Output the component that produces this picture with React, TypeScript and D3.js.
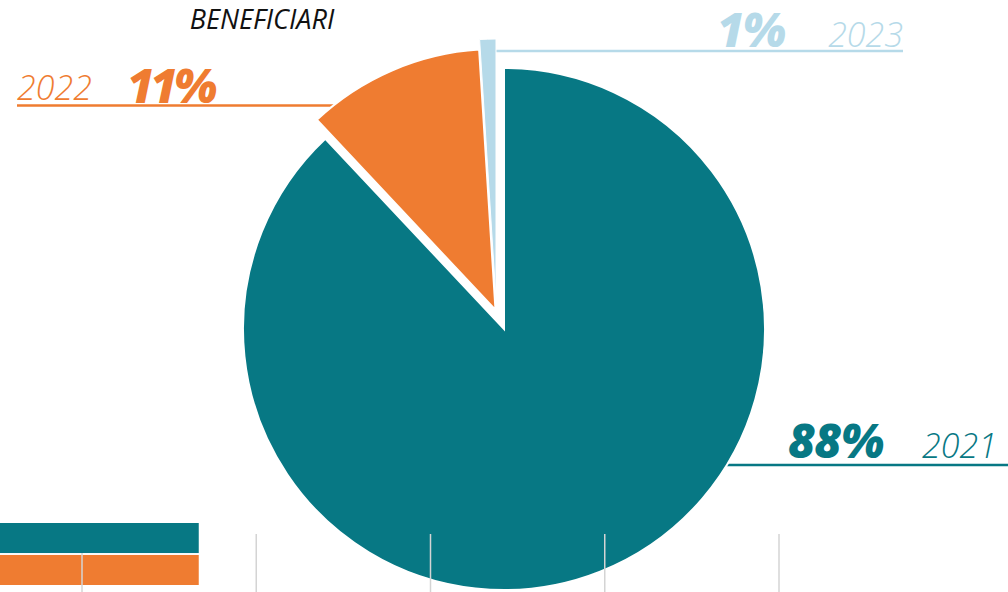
import { useRef, useEffect } from 'react';
import * as d3 from 'd3';

const years = ['2021', '2022', '2023'];
const shares = [88, 11, 1];
const colors = ['#077884', '#EF7C31', '#B6DAE9'];
// how far each slice is pulled out of the pie [dx, dy]
const explode = [[0, 0], [-8.5, -19], [-8, -29]];

const barNames = ['a', 'b'];
const barValues = [1.67, 1.67];
const barColors = ['#077884', '#EF7C31'];
const gridTicks = [1, 2, 3, 4, 5];

const App = () => {
  const svgRef = useRef<SVGSVGElement | null>(null);

  useEffect(() => {
    if (!svgRef.current) return;
    const svg = d3.select(svgRef.current);
    svg.selectAll('*').remove();

    const W = 1008;
    const H = 592;
    const cx = 504;
    const cy = 329;
    const r = 261;
    const font = '"Open Sans", sans-serif';

    svg.attr('width', W).attr('height', H);

    // leader lines (drawn under the pie)
    const leaders = [
      { x1: 720, x2: 1008, y: 465, c: colors[0] },
      { x1: 17, x2: 360, y: 105.5, c: colors[1] },
      { x1: 488, x2: 903, y: 51, c: colors[2] },
    ];
    svg.selectAll('.leader')
      .data(leaders)
      .enter()
      .append('line')
      .attr('x1', d => d.x1)
      .attr('x2', d => d.x2)
      .attr('y1', d => d.y)
      .attr('y2', d => d.y)
      .attr('stroke', d => d.c)
      .attr('stroke-width', 2.5);

    const pie = d3.pie<number>().sort(null).value(d => d);
    const arcs = pie(shares);
    const arc = d3.arc<d3.PieArcDatum<number>>().innerRadius(0).outerRadius(r);

    const g = svg.append('g').attr('transform', `translate(${cx},${cy})`);
    g.selectAll('path')
      .data(arcs)
      .enter()
      .append('path')
      .attr('d', arc)
      .attr('fill', (d, i) => colors[i])
      .attr('stroke', '#fff')
      .attr('stroke-width', (d, i) => (i === 2 ? 1 : 2))
      .attr('transform', (d, i) => `translate(${explode[i][0]},${explode[i][1]})`);

    // cropped bar chart at the bottom
    const x = d3.scaleLinear().domain([0, 5]).range([-92.25, 779]);
    const y = d3.scaleBand().domain(barNames).range([523, 585]).paddingInner(0.06);

    svg.append('rect')
      .attr('x', x(0))
      .attr('y', y(barNames[1]) as number)
      .attr('width', x(barValues[1]) - x(0))
      .attr('height', y.bandwidth())
      .attr('fill', barColors[1]);

    svg.selectAll('.grid')
      .data(gridTicks)
      .enter()
      .append('line')
      .attr('x1', d => x(d))
      .attr('x2', d => x(d))
      .attr('y1', 534)
      .attr('y2', H)
      .attr('stroke', '#d4d4d4')
      .attr('stroke-width', 1.5);

    svg.append('rect')
      .attr('x', x(0))
      .attr('y', y(barNames[0]) as number)
      .attr('width', x(barValues[0]) - x(0))
      .attr('height', y.bandwidth())
      .attr('fill', barColors[0]);

    // title
    svg.append('text')
      .attr('x', 262)
      .attr('y', 29)
      .attr('text-anchor', 'middle')
      .attr('font-family', font)
      .attr('font-style', 'italic')
      .attr('font-size', 27)
      .attr('fill', '#111')
      .text('BENEFICIARI');

    const labels = [
      { pct: `${shares[0]}%`, year: years[0], px: 788, pa: 'start', yx: 922, ya: 'start', by: 458, ls: -1 },
      { pct: `${shares[1]}%`, year: years[1], px: 127, pa: 'start', yx: 17, ya: 'start', by: 100, ls: -4 },
      { pct: `${shares[2]}%`, year: years[2], px: 784, pa: 'end', yx: 903, ya: 'end', by: 47, ls: -2 },
    ];

    labels.forEach((l, i) => {
      svg.append('text')
        .attr('x', l.px)
        .attr('y', l.by + (i === 1 ? 3 : 0))
        .attr('text-anchor', l.pa)
        .attr('font-family', font)
        .attr('font-style', 'italic')
        .attr('font-weight', 800)
        .attr('font-size', 47)
        .attr('letter-spacing', l.ls)
        .attr('fill', colors[i])
        .text(l.pct);
      svg.append('text')
        .attr('x', l.yx)
        .attr('y', l.by)
        .attr('text-anchor', l.ya)
        .attr('font-family', font)
        .attr('font-style', 'italic')
        .attr('font-weight', 300)
        .attr('font-size', 34)
        .attr('fill', colors[i])
        .text(l.year);
    });
  }, []);

  return (
    <div style={{ position: 'absolute', left: 0, top: 0, width: 1008, height: 592, overflow: 'hidden', background: '#fff' }}>
      <svg ref={svgRef} style={{ display: 'block' }} />
    </div>
  );
};

export default App;
